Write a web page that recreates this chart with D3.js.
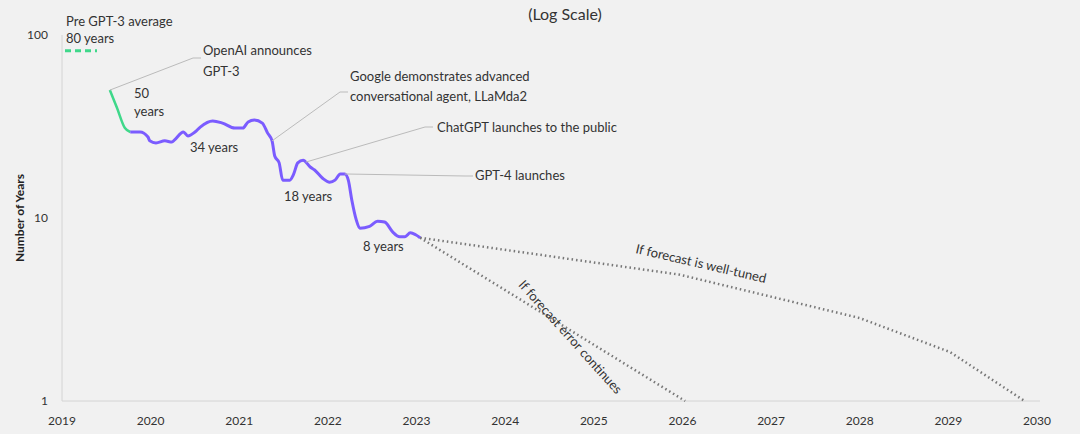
<!DOCTYPE html><html><head><meta charset="utf-8">
<script src="https://cdn.jsdelivr.net/npm/d3@7"></script>
<style>body{margin:0;background:#f1f1f1;}svg{display:block;font-family:Lato,sans-serif;}</style></head><body>
<svg id="c" width="1080" height="434"></svg>
<script>
const xTicks=[2019,2020,2021,2022,2023,2024,2025,2026,2027,2028,2029,2030];
const yTicks=[1,10,100];
const greenYears=[2019.54,2019.62,2019.71,2019.77];
const greenVals=[50,40,31,29.5];
const purpleYears=[2019.77,2019.88,2019.97,2019.99,2020.06,2020.16,2020.24,2020.27,2020.37,2020.42,2020.50,2020.56,2020.70,2020.81,2020.95,2021.04,2021.10,2021.17,2021.26,2021.32,2021.37,2021.40,2021.45,2021.49,2021.57,2021.61,2021.66,2021.72,2021.80,2021.85,2021.94,2022.02,2022.08,2022.14,2022.19,2022.23,2022.27,2022.32,2022.36,2022.47,2022.56,2022.64,2022.73,2022.81,2022.87,2022.93,2022.99,2023.04];
const purpleVals=[29.5,29.5,27.7,26.4,25.7,26.4,26.0,26.7,29.5,28.1,29.5,31.4,33.9,33.0,31.0,31.0,33.5,34.3,33.0,29.1,26.4,21.8,20.0,16.1,16.1,17.2,20.0,20.7,19.0,18.3,16.5,15.7,16.1,17.4,17.4,16.1,12.5,9.76,8.8,9.0,9.6,9.5,8.4,7.9,7.9,8.3,8.1,7.8];
const tunedYears=[2023.04,2025.97,2028.0,2029.02,2029.86];
const tunedVals=[7.8,4.9,2.84,1.85,1.0];
const errYears=[2023.04,2026.03];
const errVals=[7.8,1.0];
const svg=d3.select("#c");
const x=d3.scaleLinear().domain([2019,2030]).range([62,1037]);
const y=d3.scaleLog().domain([1,100]).range([401,35]);
const g=svg.append("g");
g.append("line").attr("x1",62).attr("x2",62).attr("y1",35).attr("y2",401).attr("stroke","#d4d4d4");
g.append("line").attr("x1",62).attr("x2",1040).attr("y1",401).attr("y2",401).attr("stroke","#d4d4d4");
xTicks.forEach(t=>g.append("text").attr("x",x(t)).attr("y",425).attr("text-anchor","middle").attr("font-size",12).attr("fill","#333").text(t));
yTicks.forEach(t=>g.append("text").attr("x",48).attr("y",y(t)+4).attr("text-anchor","end").attr("font-size",12).attr("fill","#333").text(t));
g.append("text").attr("transform","translate(24,218) rotate(-90)").attr("text-anchor","middle").attr("font-size",12).attr("font-weight","bold").attr("fill","#222").text("Number of Years");
g.append("text").attr("x",565).attr("y",20).attr("text-anchor","middle").attr("font-size",16).attr("fill","#333").text("(Log Scale)");
const line=d3.line().x(d=>x(d[0])).y(d=>y(d[1])).curve(d3.curveMonotoneX);
const z=(a,b)=>a.map((v,i)=>[v,b[i]]);
g.append("path").attr("d",d3.line().x(d=>x(d[0])).y(d=>y(d[1]))(z(tunedYears,tunedVals))).attr("fill","none").attr("stroke","#777").attr("stroke-width",2.5).attr("stroke-dasharray","1.5,3");
g.append("path").attr("d",d3.line().x(d=>x(d[0])).y(d=>y(d[1]))(z(errYears,errVals))).attr("fill","none").attr("stroke","#777").attr("stroke-width",2.5).attr("stroke-dasharray","1.5,3");
g.append("path").attr("d",line(z(greenYears,greenVals))).attr("fill","none").attr("stroke","#3fd88a").attr("stroke-width",2.5);
g.append("path").attr("d",line(z(purpleYears,purpleVals))).attr("fill","none").attr("stroke","#7b5cff").attr("stroke-width",3);
g.append("line").attr("x1",65).attr("x2",97).attr("y1",y(80)-2).attr("y2",y(80)-2).attr("stroke","#3fd88a").attr("stroke-width",3).attr("stroke-dasharray","6,4");
const T=(tx,ty,s,anchor)=>g.append("text").attr("x",tx).attr("y",ty).attr("font-size",13).attr("fill","#333").attr("text-anchor",anchor||"start").text(s);
T(66,26,"Pre GPT-3 average");T(66,43,"80 years");
T(134,98,"50");T(134,116,"years");
T(190,152,"34 years");T(284,201,"18 years");T(363,251,"8 years");
const ann=[[2019.54,50,193,58],[2021.37,26.4,340,92],[2021.75,20.2,425,127],[2022.19,17.4,465,176]];
ann.forEach(a=>{const px=x(a[0]),py=y(a[1]);g.append("polyline").attr("points",`${px},${py} ${a[2]},${a[3]} ${a[2]+8},${a[3]}`).attr("fill","none").attr("stroke","#bbb").attr("stroke-width",1);});
T(203,55,"OpenAI announces");T(203,76,"GPT-3");
T(350,81,"Google demonstrates advanced");T(350,101,"conversational agent, LLaMda2");
T(437,132,"ChatGPT launches to the public");T(475,180,"GPT-4 launches");
g.append("text").attr("transform","translate(700,268) rotate(13)").attr("text-anchor","middle").attr("font-size",13).attr("fill","#333").text("If forecast is well-tuned");
g.append("text").attr("transform","translate(567,340) rotate(48)").attr("text-anchor","middle").attr("font-size",13).attr("fill","#333").text("If forecast error continues");
</script></body></html>
